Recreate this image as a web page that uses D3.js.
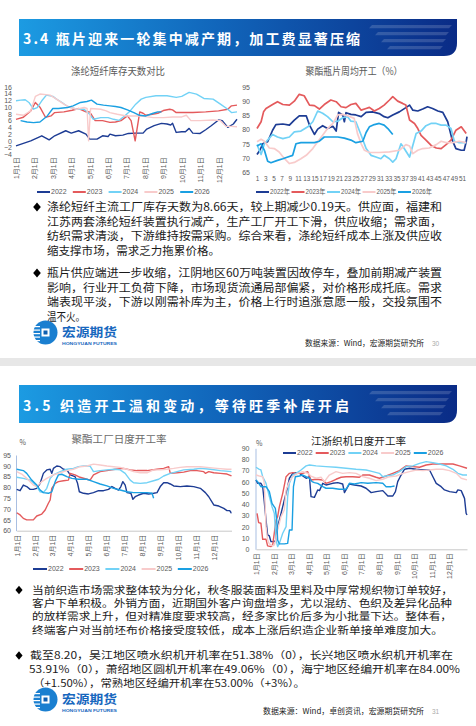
<!DOCTYPE html>
<html><head><meta charset="utf-8">
<script src="https://cdn.jsdelivr.net/npm/d3@7"></script>
<style>
body{margin:0;background:#fff;}
svg{display:block;font-family:"Noto Sans CJK SC","Noto Sans",sans-serif;}
.num{font-family:"Liberation Sans","Noto Sans CJK SC",sans-serif;}
</style></head><body>
<svg id="c" width="476" height="726"></svg>
<script>
// ---------- DATA ----------
const years = ["2022","2023","2024","2025","2026"];
const yearsCN = ["2022年","2023年","2024年","2025年","2026年"];
const monthLabels = ["1月1日","2月1日","3月1日","4月1日","5月1日","6月1日","7月1日","8月1日","9月1日","10月1日","11月1日","12月1日"];
const weekLabels = [1,3,5,7,9,11,13,15,17,19,21,23,25,27,29,31,33,35,37,39,41,43,45,47,49,51];
const invTicks = [16,14,12,10,8,6,4,2,0,-2,-4];
const petTicks = [95,90,85,80,75,70,65];
const polyTicks = [95,90,85,80,75,70,65,60];
const loomTicks = [90,80,70,60,50,40,30,20,10,0];

// 涤纶短纤库存天数 (x = months since 1月1日)
const inv2022 = [[0,-1.5],[0.8,0],[1.4,1.5],[1.8,0.3],[2.1,1.5],[2.7,3],[3.0,2.3],[3.4,3],[3.8,2],[4.0,0.5],[4.4,0.5],[4.7,1.5],[5.0,1.3],[5.1,2],[5.4,1.5],[5.8,1.7],[6.1,2.2],[6.5,2.3],[6.9,2.3],[7.1,3.5],[7.5,4.5],[7.9,5.2],[8.2,5],[8.4,4.7],[8.5,5.2],[8.7,2.5],[9.0,2.7],[9.2,2.7],[9.4,3.7],[9.6,2.3],[10.0,2.2],[10.3,3.3],[10.6,4.5],[11.0,6.2],[11.2,6],[11.5,4],[11.8,5],[12,6.4]];
const inv2023 = [[0,6.4],[0.4,7],[0.8,8.9],[1.05,11.4],[1.3,10],[1.6,7],[1.9,7.4],[2.1,8.4],[2.6,8.6],[3.05,9.1],[3.4,9.6],[3.8,8.6],[4.0,8.6],[4.3,6],[4.7,6],[5.1,5.5],[5.4,5.6],[5.7,6],[6.05,7.4],[6.25,6],[6.47,0],[6.72,8.6],[6.9,8.2],[7.05,7.6],[7.4,7.9],[7.7,8.2],[8.0,9],[8.35,9.4],[8.5,9.2],[8.7,8.4],[9.0,8.4],[9.6,8.4],[10.3,8.6],[11.0,8.9],[11.5,9.4],[11.7,10.4],[12,10.6]];
const inv2024 = [[0,11.9],[0.25,12.1],[0.5,12.2],[0.7,11.4],[0.95,9.4],[1.15,9.9],[1.4,11.9],[1.65,13.6],[2.0,13.2],[2.2,12.4],[2.5,11.4],[2.8,10.2],[3.3,9.4],[3.7,9.4],[4.0,7.9],[4.2,6.4],[4.6,6.9],[5.0,6.9],[5.3,6.4],[5.6,6.1],[5.9,7.4],[6.2,8.9],[6.5,10.9],[6.8,12.4],[7.05,12.9],[7.6,13.4],[8.2,13.4],[8.7,12.9],[9.0,13.2],[9.4,14.4],[9.8,13.9],[10.2,12.6],[10.7,12.4],[11.1,10.9],[11.5,9.4],[11.7,8.4],[12,8.6]];
const inv2025 = [[0,7.9],[0.4,7.6],[0.8,8.9],[1.05,13.2],[1.3,13.9],[1.85,13.6],[2.2,12.4],[2.6,10.9],[2.95,9.9],[3.3,9.4],[3.7,9.9],[3.86,9.6],[3.94,0],[4.05,9.6],[4.6,9.4],[4.9,8.9],[5.1,8.4],[5.5,7.9],[6.0,7.4],[6.7,7.4],[7.05,7.2],[7.45,6.9],[8.0,6.9],[8.5,7.1],[9.0,7.1],[9.25,7.6],[9.5,6],[10.0,6],[10.7,6.2],[11.1,6],[11.4,4.3],[11.7,4.3],[12,4.2]];
const inv2026 = [[0.25,6],[0.6,5.6],[0.95,5.4],[1.3,5.6],[1.7,7.4],[2.0,9.6],[2.3,9.6],[2.8,9.9],[3.1,10.4],[3.5,11.4],[3.85,11.7],[4.1,12.1],[4.4,10.9],[4.75,10.6],[5.1,10.4],[5.4,10.2],[5.7,9.9],[6.05,9.2],[6.4,8.4],[6.7,7.6],[7.05,7.4],[7.45,8.2],[7.7,8.6],[7.9,8.6]];

// 聚酯瓶片周均开工 (x = week)
const pet2022 = [[1,71.2],[1.7,72.7],[2.4,75],[3.6,75.7],[4.8,79.8],[5.6,81.8],[7.3,82],[8.9,81.6],[10.1,83.4],[11.3,84.9],[13,84.9],[13.8,81.6],[15,78.3],[15.8,80.2],[17,81.4],[18.2,80.4],[19.5,81.2],[20.3,79.5],[20.9,86.1],[21.9,85.2],[22.3,82.8],[22.7,86],[23.9,85.4],[25.1,85.2],[26.4,84.6],[27.6,86.1],[29.2,86.3],[30.8,85.7],[32,84.6],[32.9,84.2],[34.1,85.2],[35.7,86.3],[37.3,87.8],[38.2,88.7],[39,86.9],[40.2,86.6],[41.4,87.3],[42.6,88.1],[43.8,87.5],[45.1,86.6],[46.3,86.1],[47.5,82.8],[48.6,76.3],[49.5,73.3],[50.8,72.7],[51.5,72.7],[52,75.7],[52.2,77.5]];
const pet2023 = [[1,80.4],[2,82.8],[2.6,86.3],[3.2,87.5],[4.8,88.9],[6,89.9],[7.3,88.9],[8.9,88.7],[10.1,90.1],[11.3,92.5],[12.5,92],[13.8,88.7],[15,88.5],[16.2,87.3],[17.4,88.9],[19,90.5],[20.3,89.9],[21.5,88.1],[22.7,87.8],[23.9,88.9],[25.1,89.3],[26.4,86.9],[27.6,87.5],[28.4,87.9],[29.6,86.6],[30.8,87.5],[32,88.7],[33.3,90.5],[34.1,91.7],[35.3,90.1],[36.5,89.3],[37.3,88.7],[38.2,83.4],[39.4,82.2],[40.2,80.4],[41,78],[42.2,76.3],[43.4,74.5],[44.7,73.5],[45.9,73.3],[47.1,74.7],[48.3,76.3],[49.5,79.8],[50.8,81],[52,78.6]];
const pet2024 = [[1,74.7],[2,71.2],[2.8,75],[4,77],[4.8,78.3],[6,77.4],[7.3,76.8],[8.9,77.4],[10.1,79.2],[11.7,79.5],[13.4,81],[14.6,82.8],[15.8,86.6],[17,85.8],[18.2,84.6],[19.5,82.8],[20.7,83],[21.9,84.2],[23.1,84.6],[23.9,83],[25.1,82.8],[26.4,78],[27.6,73.3],[28.8,70.9],[30,70.3],[31.2,69.7],[32,70.9],[33.3,69.7],[34.1,68.5],[34.9,69.7],[36.1,75],[36.9,73.3],[38.2,70.3],[39,74.5],[39.8,78.6],[41,79.5],[42.2,81.4],[43.4,82.2],[44.7,82.2],[45.9,81.6],[47.1,81.6],[48.3,80.4],[49.1,75.9],[50.3,75.4],[52,75.4]];
const pet2025 = [[1,75.7],[2,76.6],[2.8,75.9],[4,73.5],[5.2,73.3],[6.4,72.1],[7.7,69.7],[8.9,68],[10.1,68.4],[11.7,69.7],[13,70.9],[14.6,73.3],[15.8,75.7],[17,78],[18.2,80.4],[19.5,82.2],[20.7,85.2],[21.9,85.4],[23.1,84.9],[24.7,84],[25.5,78.6],[26.4,75],[27.2,72.7],[28.4,71.9],[30.8,71.9],[33.3,72.1],[35.7,72.7],[37.3,74.7],[38.2,74.2],[39,71.5],[40.2,72.7],[41.4,73.3],[43,73.5],[44.7,74.7],[45.9,75.9],[47.1,75.4],[48.7,75.4],[50.3,75.9],[52,75.4]];
const pet2026 = [[1,74.2],[2,75],[2.8,72.7],[3.6,68.8],[4.4,68.3],[6,69.1],[7.3,69.7],[8.5,70.3],[9.7,70.9],[10.5,75],[11.7,75.4],[13.4,75.4],[15,75.4],[16.2,75.9],[17.4,77.4],[19,77.4],[20.7,77.4],[22.3,77],[23.9,76.3],[25.1,75.4],[26.8,75.9],[27.6,79],[28.4,81],[29.6,81.8],[30.8,82.2],[32,81.6],[32.9,80.4],[34.1,78.3]];

// 聚酯工厂日度开工率 (x = months since 1月1日)
const poly2022 = [[0,79.1],[0.19,78.5],[0.37,81.1],[0.56,80.4],[0.75,79.1],[0.93,79.1],[1.12,79.6],[1.31,81.9],[1.49,86.5],[1.68,88.1],[1.87,88.4],[1.96,86.5],[2.05,88.8],[2.24,89.9],[2.43,89.6],[2.61,88.4],[2.8,88.1],[2.99,85.8],[3.26,85],[3.4,81.9],[3.5,78],[3.73,77.3],[4.01,77],[4.29,77.6],[4.57,78.5],[4.85,78.5],[5.13,79.1],[5.32,80.4],[5.5,79.6],[5.69,78.8],[5.82,80.4],[5.93,82.7],[6.06,81.1],[6.16,77.6],[6.38,77.3],[6.49,74.5],[6.62,75.7],[6.81,76.5],[7.09,77.3],[7.37,77],[7.65,77.3],[7.84,77.6],[8.02,80.4],[8.21,82.2],[8.4,82.2],[8.58,81.6],[8.77,80.7],[9.14,80.4],[9.51,80.7],[9.89,80.4],[10.26,79.6],[10.54,77.6],[10.73,75.7],[11.01,71.9],[11.29,71.4],[11.57,70.3],[11.75,69.3],[11.9,69.3],[11.98,68.3],[12,68.3]];
const poly2023 = [[0,68.3],[0.19,67.3],[0.37,65.7],[0.56,65],[0.93,65],[1.12,66.8],[1.4,67.7],[1.59,69.6],[1.77,72.7],[1.87,74.2],[1.96,79.6],[2.15,81.9],[2.33,82.7],[2.61,83.1],[2.89,83.4],[2.99,86.5],[3.26,85.8],[3.54,84.7],[3.92,83.8],[4.1,83.4],[4.29,85.8],[4.66,87.3],[5.04,87.8],[5.5,88.4],[5.97,88.8],[6.34,88.1],[6.72,87.8],[7.28,87.8],[7.84,88.4],[8.21,88.8],[8.49,89.6],[8.58,86.5],[8.96,86.8],[9.33,87.1],[9.7,87.8],[10.07,87.8],[10.45,87.3],[10.54,86.5],[10.73,87.3],[11.01,86.8],[11.38,86.5],[11.75,86.2],[12,85.3]];
const poly2024 = [[0,84.7],[0.37,84.2],[0.75,83.4],[0.93,82.2],[1.12,80.4],[1.31,78],[1.49,77.6],[1.68,79.6],[1.87,84.2],[2.05,85.8],[2.43,87.3],[2.8,88.4],[3.17,88.8],[3.45,89.6],[3.73,89.9],[4.1,89.9],[4.29,87.3],[4.66,87.8],[5.04,88.1],[5.5,88.4],[5.78,88.1],[6.06,86.5],[6.34,83.4],[6.53,82.2],[6.9,81.9],[7.28,82.2],[7.65,83.1],[7.93,83.8],[8.21,85.3],[8.58,86.5],[8.96,87.3],[9.33,88.1],[9.89,88.4],[10.26,88.8],[10.82,88.4],[11.38,87.8],[12,87.3]];
const poly2025 = [[0,87.3],[0.28,86.2],[0.56,84.2],[0.93,81.1],[1.12,80.4],[1.4,82.7],[1.68,84.2],[2.05,85.8],[2.43,86.8],[2.8,87.8],[3.17,88.4],[3.54,89.6],[3.92,89.9],[4.29,90.8],[4.66,90.4],[5.04,89.9],[5.41,89.6],[5.78,89.3],[6.16,88.4],[6.53,87.3],[6.9,86.8],[7.28,86.8],[7.65,88.1],[8.02,88.1],[8.4,88.4],[8.77,88.8],[9.14,89.3],[9.51,89.6],[9.89,89.6],[10.26,89.6],[10.63,89.3],[11.19,88.8],[11.75,88.4],[12,88.4]];
const poly2026 = [[0,88.4],[0.37,87.8],[0.56,86.5],[0.84,83.4],[1.12,81.1],[1.31,78.8],[1.49,77.6],[1.77,77.3],[1.96,78],[2.15,82.7],[2.33,85.8],[2.52,86.1],[2.8,85],[3.08,84.2],[3.45,83.8],[3.92,83.8],[4.29,82.7],[4.66,81.6],[5.04,80.7],[5.41,79.6],[5.78,78.8],[6.16,78],[6.53,77.6],[6.9,77.6],[7.28,77.6],[7.56,77.3],[7.65,75]];

// 江浙织机日度开工率 (x = months since 1月1日)
const loom2022 = [[0,61.8],[0.09,58.8],[0.28,58.8],[0.38,55.8],[0.47,42.5],[0.57,26.1],[0.66,12.8],[0.76,11.9],[0.85,6.8],[1.04,6.8],[1.14,8.3],[1.23,20.2],[1.33,26.1],[1.52,38],[1.61,44],[1.71,49.9],[1.8,55.8],[1.9,63.3],[2.09,67.7],[2.28,68.3],[2.47,67.7],[2.66,65.3],[2.85,63.3],[3.04,64.7],[3.13,46.9],[3.32,46.3],[3.51,52.9],[3.61,52.3],[3.8,58.8],[3.98,57.3],[4.36,58.8],[4.65,59.4],[4.93,58.2],[5.03,50.5],[5.12,52.9],[5.31,58.2],[5.6,57.3],[5.98,56.4],[6.26,54.4],[6.55,50.5],[6.83,51.4],[7.21,52.3],[7.5,47.5],[7.78,47.5],[7.93,51.4],[8.06,60.3],[8.2,64.7],[8.44,71.3],[8.73,72.2],[9.11,71.3],[9.49,70.7],[9.87,70.7],[10.06,64.7],[10.25,58.8],[10.53,55.8],[10.72,52.9],[11.01,51.4],[11.39,50.5],[11.48,52.9],[11.67,52.3],[11.86,45.4],[11.95,32.1],[12,30.6]];
const loom2023 = [[0.06,32.1],[0.15,23.8],[0.28,23.2],[0.38,8.9],[0.57,8.9],[0.66,3],[0.85,2.4],[0.95,3.9],[1.14,26.1],[1.23,29.1],[1.33,38],[1.52,49.9],[1.71,64.7],[1.9,67.7],[2.09,68.3],[2.28,67.7],[2.66,67.7],[2.94,69.2],[3.13,61.8],[3.42,62.4],[3.8,61.8],[3.98,58.8],[4.27,60.3],[4.55,62.4],[4.84,64.2],[5.12,64.7],[5.5,64.7],[5.88,64.2],[6.07,66.2],[6.45,66.2],[6.83,64.2],[7.02,63.3],[7.4,65.3],[7.78,67.7],[8.16,70.1],[8.54,74.3],[8.92,73.7],[9.3,73.1],[9.68,75.1],[10.06,76],[10.63,76],[11.2,76],[11.57,74.3],[12,72.2]];
const loom2024 = [[0,73.1],[0.19,71.3],[0.28,70.7],[0.38,64.7],[0.57,58.8],[0.76,46.9],[0.91,38],[1.04,32.1],[1.14,8.3],[1.23,2.4],[1.33,5.3],[1.52,14.3],[1.71,20.2],[1.8,46.9],[1.9,58.8],[2.09,66.2],[2.28,67.7],[2.56,70.7],[2.85,74.3],[3.04,75.1],[3.42,74.3],[3.98,73.7],[4.55,73.1],[5.12,72.2],[5.69,71.3],[6.26,70.7],[6.64,69.2],[7.02,67.7],[7.21,64.7],[7.4,65.3],[7.78,66.2],[8.16,69.2],[8.54,73.7],[8.92,74.3],[9.3,76.6],[9.68,78.1],[10.06,77.2],[10.44,76],[10.82,74.3],[11.2,71.3],[11.48,67.7],[11.76,66.2],[12,66.2]];
const loom2025 = [[0,66.2],[0.19,65.3],[0.38,64.7],[0.47,58.8],[0.57,20.2],[0.66,8.3],[0.76,4.8],[0.95,3],[1.04,3.9],[1.14,8.9],[1.23,17.2],[1.42,29.1],[1.61,35],[1.71,52.9],[1.9,60.3],[2.09,64.7],[2.37,67.7],[2.66,69.2],[2.94,67.7],[3.13,65.3],[3.42,63.3],[3.7,64.2],[3.89,60.3],[4.17,66.2],[4.55,69.2],[4.93,67.7],[5.31,68.3],[5.69,67.7],[6.07,64.7],[6.45,63.3],[6.83,61.2],[7.21,62.4],[7.59,64.7],[7.97,65.3],[8.35,67.7],[8.73,69.2],[9.11,70.7],[9.49,70.1],[9.87,70.7],[10.25,71.3],[10.63,71.3],[11.01,70.1],[11.39,67.7],[11.67,63.3],[12,61.8]];
const loom2026 = [[0,61.8],[0.09,60.3],[0.28,55.8],[0.57,55.8],[0.76,51.4],[0.91,41],[1.1,36.5],[1.18,26.1],[1.23,8.3],[1.33,4.8],[1.61,4.8],[1.8,5.3],[1.9,17.2],[2.05,17.2],[2.13,55.8],[2.24,64.7],[2.47,65.3],[2.66,66.2],[2.85,64.7],[3.04,63.3],[3.19,60.3],[3.32,59.4],[3.51,58.8],[3.8,55.8],[3.98,54.4],[4.36,54.4],[4.74,53.5],[5.12,53.5],[5.31,58.8],[5.6,58.2],[5.98,59.4],[6.36,58.8],[6.83,59.4],[7.21,58.8],[7.4,55.8],[7.69,55.8],[7.88,56.4]];

// ---------- TEXT ----------
const topBullet1 = ["涤纶短纤主流工厂库存天数为8.66天，较上期减少0.19天。供应面，福建和","江苏两套涤纶短纤装置执行减产，生产工厂开工下滑，供应收缩；需求面，","纺织需求清淡，下游维持按需采购。综合来看，涤纶短纤成本上涨及供应收","缩支撑市场，需求乏力拖累价格。"];
const topBullet2 = ["瓶片供应端进一步收缩，江阴地区60万吨装置因故停车，叠加前期减产装置","影响，行业开工负荷下降，市场现货流通局部偏紧，对价格形成托底。需求","端表现平淡，下游以刚需补库为主，价格上行时追涨意愿一般，交投氛围不","温不火。"];
const botBullet1 = ["当前织造市场需求整体较为分化，秋冬服装面料及里料及中厚常规织物订单较好，","客户下单积极。外销方面，近期国外客户询盘增多，尤以混纺、色织及差异化品种","的放样需求上升，但对精准度要求较高，经多家比价后多为小批量下达。整体看，","终端客户对当前坯布价格接受度较低，成本上涨后织造企业新单接单难度加大。"];
const botBullet2 = ["截至8.20，吴江地区喷水织机开机率在51.38%（0），长兴地区喷水织机开机率在","53.91%（0），萧绍地区圆机开机率在49.06%（0），海宁地区经编开机率在84.00%","（+1.50%），常熟地区经编开机率在53.00%（+3%）。"];

// ---------- DRAW ----------
const colors = ["#1d3c94","#e45a5c","#72d2f6","#f8cbcb","#1aa0e2"];
const svg = d3.select("#c");
const defs = svg.append("defs");
const grad = defs.append("linearGradient").attr("id","hg").attr("x1","0").attr("x2","1").attr("y1","0").attr("y2","0");
grad.append("stop").attr("offset","0%").attr("stop-color","#1c9be2");
grad.append("stop").attr("offset","45%").attr("stop-color","#1166bb");
grad.append("stop").attr("offset","100%").attr("stop-color","#0a2b86");

// gray separator between slides
svg.append("rect").attr("x",0).attr("y",358).attr("width",476).attr("height",8).attr("fill","#e7e7e7");

function header(y0, y1, txt, len) {
  const g = svg.append("g");
  g.append("path").attr("d",`M19,${y0}H457V${y1-13}Q457,${y1} 444,${y1}H19Z`).attr("fill","url(#hg)");
  [0,1,2,3].forEach(i=>{
    const yy = y0+6+i*7, xl = 372+i*6, xr = 452-i*3;
    g.append("path").attr("d",`M${xl},${yy}H${xr}L${xr-3},${yy+3.2}H${xl-3}Z`).attr("fill","#ffffff").attr("opacity",0.16);
  });
  g.append("text").attr("x",23).attr("y",y1-12.5).attr("fill","#fff").attr("font-size",14).attr("font-weight","bold")
    .attr("textLength",len).attr("lengthAdjust","spacing").text(txt);
}
header(19,56,"3.4 瓶片迎来一轮集中减产期，加工费显著压缩",337);
header(385,423,"3.5 织造开工温和变动，等待旺季补库开启",326);

function title(x, y, txt, len, col, fs) {
  svg.append("text").attr("x",x).attr("y",y).attr("text-anchor","middle").attr("font-size",fs).attr("fill",col)
    .attr("textLength",len).attr("lengthAdjust","spacingAndGlyphs").text(txt);
}
function drawSeries(g, x, y, list, w) {
  const line = d3.line().x(d=>x(d[0])).y(d=>y(d[1]));
  list.forEach((s,i)=>g.append("path").attr("d",line(s)).attr("fill","none").attr("stroke",colors[i])
    .attr("stroke-width",w).attr("stroke-linejoin","round"));
}
function legend(x0, step, y, labels, len, tlen) {
  const g = svg.append("g").attr("class","num");
  labels.forEach((l,i)=>{
    const x = x0+i*step;
    g.append("line").attr("x1",x).attr("x2",x+len).attr("y1",y).attr("y2",y).attr("stroke",colors[i]).attr("stroke-width",2);
    const t = g.append("text").attr("x",x+len+1).attr("y",y).attr("dy","0.35em").attr("font-size",7).attr("fill","#595959").text(l);
    if (tlen) t.attr("textLength",tlen).attr("lengthAdjust","spacingAndGlyphs");
  });
}
function styleAxis(g, showDomain, domainColor, fs) {
  g.selectAll("text").attr("fill","#595959").attr("font-size",fs||7).attr("font-family","'Liberation Sans','Noto Sans CJK SC',sans-serif");
  if (showDomain) g.select(".domain").attr("stroke",domainColor).attr("stroke-width",1);
  else g.select(".domain").remove();
  g.selectAll(".tick line").remove();
}
function monthAxis(yPos, x, pad, showDomain) {
  const g = svg.append("g").attr("transform",`translate(0,${yPos})`)
    .call(d3.axisBottom(x).tickValues(d3.range(monthLabels.length)).tickFormat(i=>monthLabels[i]).tickSize(0));
  styleAxis(g, showDomain, "#c8c8c8");
  g.selectAll("text").attr("transform","rotate(-90)").attr("text-anchor","end").attr("x",-pad).attr("y",0).attr("dy","0.35em");
  return g;
}

// ---- Chart 1: 涤纶短纤库存天数对比 ----
{
  const x = d3.scaleLinear().domain([0,12]).range([16,237]);
  const y = d3.scaleLinear().domain([-4,16]).range([154.3,87]);
  title(118,74.5,"涤纶短纤库存天数对比",94,"#595959",10);
  const ga = svg.append("g").attr("transform","translate(15,0)").call(d3.axisLeft(y).tickValues(invTicks).tickSize(0).tickPadding(3));
  styleAxis(ga,false);
  monthAxis(154.3, x, 3, false);
  drawSeries(svg.append("g"), x, y, [inv2022,inv2023,inv2024,inv2025,inv2026], 1.4);
  legend(37,35.8,192,years,13);
}
// ---- Chart 2: 聚酯瓶片周均开工 ----
{
  const x = d3.scaleLinear().domain([1,52.2]).range([257,467]);
  const y = d3.scaleLinear().domain([65,95]).range([172,87.3]);
  title(354,74.5,"聚酯瓶片周均开工（%）",97,"#595959",10);
  const ga = svg.append("g").attr("transform","translate(253,0)").call(d3.axisLeft(y).tickValues(petTicks).tickSize(0).tickPadding(3));
  styleAxis(ga,false);
  const gx = svg.append("g").attr("transform","translate(0,172)").call(d3.axisBottom(x).tickValues(weekLabels).tickSize(0).tickPadding(4.5));
  styleAxis(gx,false,null,6.4);
  drawSeries(svg.append("g"), x, y, [pet2022,pet2023,pet2024,pet2025,pet2026], 1.7);
  legend(256,35.5,192,yearsCN,13,20);
}
// ---- Chart 3: 聚酯工厂日度开工率 ----
{
  const x = d3.scaleLinear().domain([0,12]).range([16.7,231.5]);
  const y = d3.scaleLinear().domain([60,95]).range([530.7,455]);
  title(119,443,"聚酯工厂日度开工率",95,"#6b6b6b",10.5);
  svg.append("text").attr("x",22.7).attr("y",445).attr("text-anchor","middle").attr("font-size",7).attr("fill","#595959").text("%");
  const ga = svg.append("g").attr("transform","translate(16,0)").call(d3.axisLeft(y).tickValues(polyTicks).tickSize(0).tickPadding(5));
  styleAxis(ga,true,"#a9bfe2");
  monthAxis(530.7, x, 4, true);
  drawSeries(svg.append("g"), x, y, [poly2022,poly2023,poly2024,poly2025,poly2026], 1.4);
  legend(33,36.2,569,years,14);
}
// ---- Chart 4: 江浙织机日度开工率 ----
{
  const x = d3.scaleLinear().domain([0,12]).range([256,467]);
  const y = d3.scaleLinear().domain([0,90]).range([549.3,448.3]);
  title(358.5,444.5,"江浙织机日度开工率",95,"#222",10.5);
  svg.append("text").attr("x",259.3).attr("y",446).attr("text-anchor","middle").attr("font-size",7).attr("fill","#595959").text("%");
  const ga = svg.append("g").attr("transform","translate(255.5,0)").call(d3.axisLeft(y).tickValues(loomTicks).tickSize(0).tickPadding(6));
  styleAxis(ga,true,"#a9bfe2");
  monthAxis(549.3, x, 4, true);
  drawSeries(svg.append("g"), x, y, [loom2022,loom2023,loom2024,loom2025,loom2026], 1.4);
  legend(283,32.7,453,years,13);
}

// ---- bullet text ----
function diamond(cx, cy, r) {
  svg.append("path").attr("d",`M${cx},${cy-r}L${cx+r*0.85},${cy}L${cx},${cy+r}L${cx-r*0.85},${cy}Z`).attr("fill","#000");
}
function para(lines, xs, ys, lens, fs) {
  lines.forEach((t,i)=>{
    svg.append("text").attr("x",xs[i]).attr("y",ys[i]).attr("font-size",fs).attr("fill","#1a1a1a")
      .attr("textLength",lens[i]).attr("lengthAdjust","spacingAndGlyphs").text(t);
  });
}
diamond(37,207,4.5);
para(topBullet1,[47,47,47,47],[211,225.5,240,254.5],[395,395,395,173],11.2);
diamond(37,273,4.5);
para(topBullet2,[47,47,47,47],[277,291.5,306,320.5],[395,395,395,38],11.2);

diamond(19,590,4.2);
para(botBullet1,[32,32,32,32],[593.8,607.1,620.4,633.7],[421,420,420,411],9.8);
diamond(19,655.5,4.2);
para(botBullet2,[30,29,33],[659.3,673.3,687.3],[423,431,272],9.8);

// ---- logos & sources ----
function logo(dy) {
  const g = svg.append("g").attr("transform",`translate(0,${dy})`);
  g.append("circle").attr("cx",45.5).attr("cy",332.5).attr("r",12).attr("fill","#1a7fd0");
  [326,329.5,333,336.5,340].forEach(yy=>g.append("rect").attr("x",33).attr("y",yy).attr("width",7).attr("height",1.2).attr("fill","#fff"));
  g.append("rect").attr("x",41.5).attr("y",328.5).attr("width",8).attr("height",8).attr("fill","#fff");
  g.append("rect").attr("x",43.5).attr("y",330.5).attr("width",4).attr("height",4).attr("fill","#0f5fb0");
  g.append("text").attr("x",62).attr("y",336.5).attr("font-size",12.5).attr("font-weight","bold").attr("fill","#1767be")
    .attr("textLength",55).attr("lengthAdjust","spacingAndGlyphs").text("宏源期货");
  g.append("text").attr("x",62).attr("y",344.5).attr("font-size",4.4).attr("font-weight","bold").attr("fill","#1767be")
    .attr("font-family","'Liberation Sans',sans-serif").attr("textLength",55).attr("lengthAdjust","spacingAndGlyphs").text("HONGYUAN FUTURES");
}
logo(0); logo(367);
function source(x, y, txt, len, page) {
  svg.append("text").attr("x",x).attr("y",y).attr("font-size",7.5).attr("fill","#222")
    .attr("textLength",len).attr("lengthAdjust","spacingAndGlyphs").text(txt);
  svg.append("text").attr("x",432).attr("y",y).attr("font-size",6.5).attr("fill","#aaa").attr("class","num").text(page);
}
source(305,346,"数据来源：Wind，宏源期货研究所",119,"30");
source(263,713.5,"数据来源：Wind，卓创资讯，宏源期货研究所",161,"31");
</script>
</body></html>
